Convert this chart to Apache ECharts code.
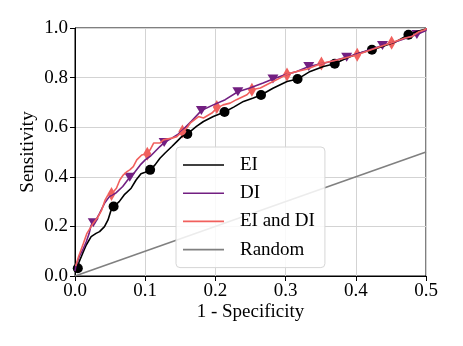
<!DOCTYPE html>
<html>
<head>
<meta charset="utf-8">
<script src="https://cdn.jsdelivr.net/npm/echarts@6/dist/echarts.min.js"></script>
<style>
  html, body { margin: 0; padding: 0; background: #fff; }
  #chart { width: 463px; height: 346px; }
</style>
</head>
<body>
<div id="chart"></div>
<script>
// ROC curves
const eiX = [0.003, 0.006, 0.011, 0.016, 0.023, 0.030, 0.035, 0.042, 0.047, 0.051, 0.055, 0.063, 0.070, 0.080, 0.087, 0.094, 0.100, 0.107, 0.114, 0.121, 0.128, 0.138, 0.145, 0.152, 0.160, 0.164, 0.173, 0.183, 0.197, 0.213, 0.226, 0.240, 0.254, 0.265, 0.282, 0.302, 0.317, 0.335, 0.354, 0.370, 0.387, 0.406, 0.423, 0.439, 0.458, 0.475, 0.487, 0.500, 0.500];
const eiY = [0.031, 0.058, 0.092, 0.125, 0.159, 0.172, 0.179, 0.199, 0.226, 0.262, 0.280, 0.300, 0.327, 0.354, 0.387, 0.412, 0.418, 0.428, 0.448, 0.475, 0.495, 0.522, 0.542, 0.562, 0.573, 0.582, 0.603, 0.623, 0.643, 0.661, 0.681, 0.704, 0.718, 0.730, 0.757, 0.784, 0.794, 0.825, 0.845, 0.856, 0.879, 0.899, 0.912, 0.926, 0.946, 0.973, 0.986, 0.996, 1.000];

const diX = [0.000, 0.001, 0.006, 0.011, 0.016, 0.020, 0.023, 0.026, 0.030, 0.035, 0.042, 0.049, 0.058, 0.068, 0.078, 0.085, 0.093, 0.100, 0.107, 0.114, 0.121, 0.127, 0.138, 0.147, 0.154, 0.166, 0.180, 0.197, 0.214, 0.232, 0.249, 0.268, 0.282, 0.299, 0.316, 0.333, 0.360, 0.387, 0.410, 0.438, 0.460, 0.487, 0.500, 0.500];
const diY = [0.020, 0.038, 0.078, 0.105, 0.138, 0.170, 0.205, 0.215, 0.226, 0.253, 0.293, 0.320, 0.334, 0.361, 0.398, 0.418, 0.448, 0.468, 0.482, 0.502, 0.522, 0.538, 0.556, 0.572, 0.590, 0.625, 0.667, 0.690, 0.711, 0.743, 0.758, 0.778, 0.794, 0.811, 0.825, 0.845, 0.862, 0.882, 0.903, 0.929, 0.948, 0.974, 0.990, 1.000];

const bothX = [0.001, 0.005, 0.012, 0.017, 0.026, 0.033, 0.038, 0.043, 0.047, 0.052, 0.059, 0.064, 0.069, 0.074, 0.078, 0.083, 0.088, 0.095, 0.103, 0.107, 0.112, 0.121, 0.126, 0.131, 0.138, 0.145, 0.153, 0.159, 0.164, 0.176, 0.183, 0.195, 0.202, 0.211, 0.221, 0.230, 0.245, 0.252, 0.264, 0.273, 0.282, 0.292, 0.302, 0.316, 0.330, 0.351, 0.375, 0.402, 0.425, 0.451, 0.470, 0.480, 0.490, 0.500, 0.500];
const bothY = [0.040, 0.078, 0.132, 0.172, 0.213, 0.239, 0.266, 0.307, 0.327, 0.331, 0.354, 0.388, 0.408, 0.421, 0.428, 0.441, 0.468, 0.488, 0.493, 0.509, 0.536, 0.536, 0.549, 0.552, 0.556, 0.562, 0.583, 0.596, 0.616, 0.643, 0.637, 0.657, 0.677, 0.690, 0.697, 0.711, 0.731, 0.751, 0.758, 0.771, 0.784, 0.798, 0.814, 0.825, 0.834, 0.857, 0.872, 0.892, 0.915, 0.941, 0.960, 0.966, 0.985, 0.995, 1.000];

const randX = [0.0, 0.5];
const randY = [0.0, 0.5];

// marker positions
const eiMarkX = [0.004, 0.055, 0.107, 0.160, 0.213, 0.265, 0.317, 0.370, 0.423, 0.475];
const eiMarkY = [0.031, 0.280, 0.428, 0.573, 0.661, 0.730, 0.794, 0.856, 0.912, 0.973];
const diMarkX = [0.026, 0.078, 0.127, 0.180, 0.232, 0.282, 0.333, 0.387, 0.438, 0.487];
const diMarkY = [0.215, 0.398, 0.538, 0.667, 0.743, 0.794, 0.845, 0.882, 0.929, 0.974];
const bothMarkX = [0.052, 0.103, 0.153, 0.202, 0.252, 0.302, 0.351, 0.402, 0.451];
const bothMarkY = [0.331, 0.493, 0.583, 0.681, 0.751, 0.813, 0.857, 0.892, 0.941];

const xTicks = [0.0, 0.5, 0.1];
const yTicks = [0.0, 1.0, 0.2];

const FONT = "'Liberation Serif', 'Times New Roman', serif";
const C_EI = "#000000";
const C_DI = "#721f81";
const C_BOTH = "#f1605d";
const C_RAND = "#808080";

const zip = (xs, ys) => xs.map((x, i) => [x, ys[i]]);

const lineSeries = (name, xs, ys, color) => ({
  name: name,
  type: "line",
  data: zip(xs, ys),
  symbol: "none",
  smooth: false,
  lineStyle: { color: color, width: 1.6 },
  itemStyle: { color: color },
  silent: true,
});

const markSeries = (name, xs, ys, color, symbol, size, rotate) => ({
  name: name + " markers",
  type: "scatter",
  data: zip(xs, ys),
  symbol: symbol,
  symbolSize: size,
  symbolRotate: rotate || 0,
  itemStyle: { color: color, opacity: 1 },
  silent: true,
});

const legendItem = (name, color) => ({
  name: name,
  icon: "rect",
  itemStyle: { color: color },
});

const chart = echarts.init(document.getElementById("chart"));

const option = {
  animation: false,
  backgroundColor: "#fff",
  textStyle: { fontFamily: FONT },
  grid: {
    left: 75,
    right: 37,
    top: 28,
    bottom: 70,
    show: true,
    borderColor: "#000",
    borderWidth: 1,
    containLabel: false,
  },
  legend: {
    data: [
      legendItem("EI", C_EI),
      legendItem("DI", C_DI),
      legendItem("EI and DI", C_BOTH),
      legendItem("Random", C_RAND),
    ],
    orient: "vertical",
    left: 176,
    top: 147,
    padding: [8, 10, 8, 7],
    itemWidth: 41,
    itemHeight: 1.6,
    itemGap: 8.2,
    backgroundColor: "rgba(255,255,255,0.85)",
    borderColor: "#d6d6d6",
    borderWidth: 1,
    borderRadius: 4,
    textStyle: {
      fontFamily: FONT,
      fontSize: 19,
      lineHeight: 20,
      color: "#000",
      padding: [0, 0, 0, 11],
    },
  },
  xAxis: {
    type: "value",
    min: xTicks[0],
    max: xTicks[1],
    interval: xTicks[2],
    name: "1 - Specificity",
    nameLocation: "middle",
    nameGap: 27,
    nameMoveOverlap: false,
    nameTextStyle: { fontFamily: FONT, fontSize: 19, color: "#000" },
    axisLine: { show: true, lineStyle: { color: "#000", width: 1 } },
    axisTick: { show: true, length: 5, lineStyle: { color: "#000" } },
    axisLabel: {
      fontFamily: FONT,
      fontSize: 19,
      color: "#000",
      margin: 6,
      formatter: (v) => v.toFixed(1),
    },
    splitLine: { show: true, lineStyle: { color: "#d3d3d3", width: 1 } },
  },
  yAxis: {
    type: "value",
    min: yTicks[0],
    max: yTicks[1],
    interval: yTicks[2],
    name: "Sensitivity",
    nameLocation: "middle",
    nameGap: 37,
    nameMoveOverlap: false,
    nameTextStyle: { fontFamily: FONT, fontSize: 19, color: "#000" },
    axisLine: { show: true, lineStyle: { color: "#000", width: 1 } },
    axisTick: { show: true, length: 5, lineStyle: { color: "#000" } },
    axisLabel: {
      fontFamily: FONT,
      fontSize: 19,
      color: "#000",
      margin: 7,
      formatter: (v) => v.toFixed(1),
    },
    splitLine: { show: true, lineStyle: { color: "#d3d3d3", width: 1 } },
  },
  series: [
    lineSeries("EI", eiX, eiY, C_EI),
    markSeries("EI", eiMarkX, eiMarkY, C_EI, "circle", 10),
    lineSeries("DI", diX, diY, C_DI),
    markSeries("DI", diMarkX, diMarkY, C_DI, "triangle", [11, 9], 180),
    lineSeries("EI and DI", bothX, bothY, C_BOTH),
    markSeries("EI and DI", bothMarkX, bothMarkY, C_BOTH, "diamond", [8, 14]),
    lineSeries("Random", randX, randY, C_RAND),
  ],
};

chart.setOption(option);
</script>
</body>
</html>
